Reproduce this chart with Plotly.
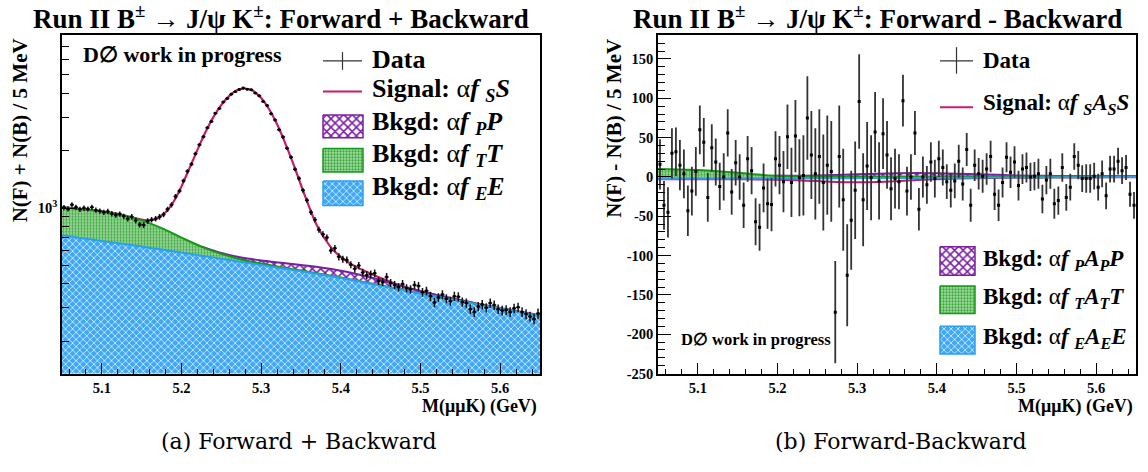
import plotly.graph_objects as go
import numpy as np

W, H = 1148, 472

# ---------------- data ----------------
# bin centres (5 MeV bins from 5.05 to 5.65 GeV)
bin_centers = [round(5.0525 + 0.005 * i, 4) for i in range(120)]

# Forward + Backward counts per bin
counts_sum = [1005, 990, 1040, 1010, 985, 1000, 990, 1010, 975, 965,
              950, 960, 935, 920, 930, 905, 880, 900, 860, 820,
              815, 855, 870, 880, 900, 925, 985, 1040, 1150, 1230,
              1390, 1560, 1700, 1930, 2150, 2370, 2640, 2850, 3140, 3330,
              3600, 3760, 3960, 4080, 4190, 4260, 4200, 4180, 4020, 3880,
              3620, 3450, 3130, 2900, 2580, 2360, 2060, 1850, 1600, 1430,
              1240, 1100, 950, 870, 770, 730, 700, 600, 615, 555,
              540, 535, 505, 480, 500, 460, 445, 450, 455, 415,
              410, 435, 405, 395, 385, 400, 380, 375, 395, 390,
              362, 368, 345, 320, 340, 352, 335, 325, 345, 343,
              322, 318, 295, 285, 305, 312, 300, 318, 310, 295,
              290, 292, 285, 298, 302, 285, 278, 270, 262, 280]

# statistical errors per bin
errors = [32, 31, 32, 32, 31, 32, 31, 32, 31, 31,
          31, 31, 31, 30, 30, 30, 30, 30, 29, 29,
          29, 29, 29, 30, 30, 30, 31, 32, 34, 35,
          37, 39, 41, 44, 46, 49, 51, 53, 56, 58,
          60, 61, 63, 64, 65, 65, 65, 65, 63, 62,
          60, 59, 56, 54, 51, 49, 45, 43, 40, 38,
          35, 33, 31, 29, 28, 27, 26, 24, 25, 24,
          23, 23, 22, 22, 22, 21, 21, 21, 21, 20,
          20, 21, 20, 20, 20, 20, 19, 19, 20, 20,
          19, 19, 19, 18, 18, 19, 18, 18, 19, 19,
          18, 18, 17, 17, 17, 18, 17, 18, 18, 17,
          17, 17, 17, 17, 17, 17, 17, 16, 16, 17]

# Forward - Backward counts per bin
counts_diff = [16, -36, -45, 30, 32, 15, 4, -43, -18, 7,
               60, 44, -26, 37, 19, -12, 0, 56, -19, 18,
               0, -36, 23, 8, -57, -64, -14, -34, -35, 23,
               15, -6, 51, -7, 52, -1, 2, 75, 28, 4,
               26, -7, 15, 7, -172, 26, -29, -125, -55, -17,
               96, -29, 14, -1, 57, -5, 55, 28, -15, -2,
               -6, 97, -18, 0, 56, -41, 0, -10, 19, -2,
               23, 12, -6, -17, -5, 20, -9, 35, -36, 15,
               4, 1, 10, 26, -22, -36, -7, 25, 6, 19,
               -11, 10, 12, 0, 1, 4, -28, -4, 4, -34,
               -30, 12, -26, -13, 26, 15, -2, -2, -2, 1,
               -13, 4, -24, 10, 10, 20, 8, 12, -22, -36]

# fit curves
fit_x = [round(5.05 + 0.01 * i, 3) for i in range(61)]
fit_total = [1012, 1002, 992, 982, 972, 962, 948, 932, 912, 890,
             870, 862, 885, 950, 1080, 1300, 1620, 2020, 2500, 3000,
             3480, 3880, 4160, 4240, 4110, 3780, 3300, 2750, 2200, 1720,
             1320, 1020, 810, 690, 605, 555, 518, 490, 468, 449,
             430, 414, 399, 386, 375, 366, 358, 350, 343, 336,
             329, 323, 316, 310, 304, 299, 294, 289, 284, 279, 274]

comp_x = [round(5.05 + 0.025 * i, 3) for i in range(25)]
bkg_E = [720, 695, 672, 650, 628, 606, 585, 563, 542, 522, 503, 484, 466,
         448, 430, 411, 392, 374, 356, 340, 325, 311, 297, 284, 272]
bkg_T = [290, 293, 288, 270, 234, 179, 115, 65, 33, 16, 9, 6, 4,
         3, 2, 1.5, 1.5, 1, 1, 0.5, 0.5, 0.5, 0, 0, 0]
bkg_P = [0, 0, 0, 0, 0, 0, 0, 2, 6, 12, 19, 27, 33,
         37, 37, 33, 26, 17, 10, 5, 2.5, 1, 0.5, 0, 0]

# asymmetry components (Forward - Backward)
asym_E = [-2.5, -2.4, -2.3, -2.2, -2.1, -2.0, -1.9, -1.8, -1.7, -1.6, -1.5, -1.4, -1.3,
          -1.2, -1.1, -1.0, -0.9, -0.8, -0.7, -0.6, -0.5, -0.4, -0.3, -0.2, -0.1]
asym_T = [12.5, 12, 11, 9.5, 7.5, 5, 3.5, 2.7, 2.3, 2.1, 2.0, 2.0, 1.9,
          1.9, 1.8, 1.8, 1.7, 1.7, 1.6, 1.6, 1.5, 1.5, 1.5, 1.4, 1.4]
asym_P = [0, 0, 0, 0, 0, 0, 0.2, 0.6, 1.2, 2, 2.8, 3.5, 4,
          4.2, 4, 3.4, 2.6, 1.8, 1.1, 0.6, 0.3, 0.1, 0, 0, 0]
asym_S = [-2.8, -2.8, -2.8, -2.9, -3.0, -3.2, -3.6, -4.3, -5.3, -6.3, -6.8, -6.5, -5.4,
          -4.0, -2.8, -2.0, -1.6, -1.3, -1.1, -0.9, -0.8, -0.7, -0.6, -0.5, -0.5]

x_ticks = [5.1, 5.2, 5.3, 5.4, 5.5, 5.6]
diff_ticks = [-250, -200, -150, -100, -50, 0, 50, 100, 150]

# ---------------- styles ----------------
SERIF = "Liberation Serif"
C_BLUE = "#2a9ff2"
C_GREEN = "#129a12"
C_PURPLE = "#7a1fa2"
C_MAG = "#cc1a6e"

PAT_BLUE = dict(shape="x", bgcolor="#3ea8f5", fgcolor="#ffffff", size=5, solidity=0.25, fillmode="replace")
PAT_GREEN = dict(shape=".", bgcolor="#a6dba6", fgcolor="#3aa83a", size=3, solidity=0.45, fillmode="replace")
PAT_PURPLE = dict(shape="x", bgcolor="#ffffff", fgcolor=C_PURPLE, size=6, solidity=0.45, fillmode="replace")

E = np.array(bkg_E, dtype=float)
ET = E + np.array(bkg_T)
ETP = ET + np.array(bkg_P)
aE = np.array(asym_E)
aET = aE + np.array(asym_T)
aETP = aET + np.array(asym_P)
p_mask = np.array(bkg_P) > 0
ap_mask = np.array(asym_P) > 0

fig = go.Figure()

# ---------- left panel ----------
fig.add_trace(go.Scatter(x=comp_x, y=[100] * len(comp_x), mode="lines", line=dict(width=0),
                         xaxis="x", yaxis="y", hoverinfo="skip", showlegend=False))
fig.add_trace(go.Scatter(x=comp_x, y=E, mode="lines", line=dict(width=0, shape="spline"),
                         fill="tonexty", fillpattern=PAT_BLUE, xaxis="x", yaxis="y", showlegend=False))
fig.add_trace(go.Scatter(x=comp_x, y=ET, mode="lines", line=dict(width=0, shape="spline"),
                         fill="tonexty", fillpattern=PAT_GREEN, xaxis="x", yaxis="y", showlegend=False))
fig.add_trace(go.Scatter(x=comp_x, y=ETP, mode="lines", line=dict(width=0, shape="spline"),
                         fill="tonexty", fillpattern=PAT_PURPLE, xaxis="x", yaxis="y", showlegend=False))
fig.add_trace(go.Scatter(x=fit_x, y=fit_total, mode="lines", line=dict(color=C_MAG, width=2.2, shape="spline"),
                         xaxis="x", yaxis="y", showlegend=False))
fig.add_trace(go.Scatter(x=np.array(comp_x)[p_mask], y=ETP[p_mask], mode="lines",
                         line=dict(color=C_PURPLE, width=2, shape="spline"), xaxis="x", yaxis="y", showlegend=False))
fig.add_trace(go.Scatter(x=comp_x, y=ET, mode="lines", line=dict(color=C_GREEN, width=2, shape="spline"),
                         xaxis="x", yaxis="y", showlegend=False))
fig.add_trace(go.Scatter(x=comp_x, y=E, mode="lines", line=dict(color=C_BLUE, width=2, shape="spline"),
                         xaxis="x", yaxis="y", showlegend=False))
fig.add_trace(go.Scatter(x=bin_centers, y=counts_sum, mode="markers",
                         marker=dict(symbol="square", size=2.5, color="black"),
                         error_y=dict(type="data", array=errors, color="#111111", thickness=1.5, width=0),
                         error_x=dict(type="constant", value=0.0025, color="#111111", thickness=1.5, width=0),
                         xaxis="x", yaxis="y", showlegend=False))

# ---------- right panel ----------
fig.add_trace(go.Scatter(x=comp_x, y=aE, mode="lines", line=dict(width=0, shape="spline"),
                         fill="tozeroy", fillpattern=PAT_BLUE, xaxis="x2", yaxis="y2", showlegend=False))
fig.add_trace(go.Scatter(x=comp_x, y=aET, mode="lines", line=dict(width=0, shape="spline"),
                         fill="tonexty", fillpattern=PAT_GREEN, xaxis="x2", yaxis="y2", showlegend=False))
fig.add_trace(go.Scatter(x=comp_x, y=aETP, mode="lines", line=dict(width=0, shape="spline"),
                         fill="tonexty", fillpattern=PAT_PURPLE, xaxis="x2", yaxis="y2", showlegend=False))
fig.add_trace(go.Scatter(x=comp_x, y=asym_S, mode="lines", line=dict(color=C_MAG, width=2, shape="spline"),
                         xaxis="x2", yaxis="y2", showlegend=False))
fig.add_trace(go.Scatter(x=np.array(comp_x)[ap_mask], y=aETP[ap_mask], mode="lines",
                         line=dict(color=C_PURPLE, width=2, shape="spline"), xaxis="x2", yaxis="y2", showlegend=False))
fig.add_trace(go.Scatter(x=comp_x, y=aET, mode="lines", line=dict(color=C_GREEN, width=2, shape="spline"),
                         xaxis="x2", yaxis="y2", showlegend=False))
fig.add_trace(go.Scatter(x=comp_x, y=aE, mode="lines", line=dict(color=C_BLUE, width=2, shape="spline"),
                         xaxis="x2", yaxis="y2", showlegend=False))
fig.add_trace(go.Scatter(x=bin_centers, y=counts_diff, mode="markers",
                         marker=dict(symbol="square", size=3, color="black"),
                         error_y=dict(type="data", array=errors, color="#333333", thickness=1.8, width=0),
                         xaxis="x2", yaxis="y2", showlegend=False))

# ---------- legend swatches (pixel-space overlay axis) ----------
def rect(x0, y0, x1, y1):
    return [x0, x1, x1, x0, x0], [y0, y0, y1, y1, y0]

for (x0, y0, x1, y1, pat, col) in [
        (323, 117, 363, 140, PAT_PURPLE, C_PURPLE),
        (323, 151, 363, 175, PAT_GREEN, C_GREEN),
        (323, 184, 363, 209, PAT_BLUE, C_BLUE),
        (940, 251, 975, 280, PAT_PURPLE, C_PURPLE),
        (940, 291, 975, 319, PAT_GREEN, C_GREEN),
        (940, 332, 975, 360, PAT_BLUE, C_BLUE)]:
    xs, ys = rect(x0, y0, x1, y1)
    fig.add_trace(go.Scatter(x=xs, y=ys, mode="lines", fill="toself", fillpattern=pat,
                             line=dict(color=col, width=1.5), xaxis="x3", yaxis="y3",
                             hoverinfo="skip", showlegend=False))

shapes = []
def pline(x0, y0, x1, y1, color, width):
    shapes.append(dict(type="line", xref="paper", yref="paper",
                       x0=x0 / W, y0=1 - y0 / H, x1=x1 / W, y1=1 - y1 / H,
                       line=dict(color=color, width=width)))

# Data crosses and signal line samples
pline(323, 62, 362, 62, "#333333", 1.2)
pline(342.5, 53, 342.5, 71, "#333333", 1.2)
pline(323, 93, 362, 93, C_MAG, 2)
pline(940, 62, 973, 62, "#333333", 1.2)
pline(956.5, 48, 956.5, 75, "#333333", 1.2)
pline(940, 109, 973, 109, C_MAG, 2)

annotations = []
def txt(x, y, s, size, xanchor="left", yanchor="middle", family=SERIF, angle=0, color="black"):
    annotations.append(dict(x=x / W, y=1 - y / H, xref="paper", yref="paper", text=s, showarrow=False,
                            xanchor=xanchor, yanchor=yanchor, textangle=angle,
                            font=dict(family=family, size=size, color=color)))

# titles
txt(281, 17, "<b>Run II B<sup>±</sup> → J/ψ K<sup>±</sup>: Forward + Backward</b>", 27, xanchor="center")
txt(877, 17, "<b>Run II B<sup>±</sup> → J/ψ K<sup>±</sup>: Forward - Backward</b>", 27, xanchor="center")

# axis titles
txt(20, 37, "<b>N(F) + N(B) / 5 MeV</b>", 21, xanchor="center", yanchor="top", angle=-90)
txt(614, 38, "<b>N(F) - N(B) / 5 MeV</b>", 21, xanchor="center", yanchor="top", angle=-90)
txt(539, 413, "<b>M(μμK) (GeV)</b>", 18, xanchor="right")
txt(1135, 413, "<b>M(μμK) (GeV)</b>", 18, xanchor="right")

# D0 labels
txt(81, 55, "<b>D∅ work in progress</b>", 22)
txt(679, 345, "<b>D∅ work in progress</b>", 16.5)

# legends
LS = 26
txt(370, 61, "<b>Data</b>", LS)
txt(370, 92, "<b>Signal:</b> α<b><i>f</i></b> <sub><b><i>S</i></b></sub><b><i>S</i></b>", LS)
txt(370, 125, "<b>Bkgd:</b> α<b><i>f</i></b> <sub><b><i>P</i></b></sub><b><i>P</i></b>", LS)
txt(370, 158, "<b>Bkgd:</b> α<b><i>f</i></b> <sub><b><i>T</i></b></sub><b><i>T</i></b>", LS)
txt(370, 191, "<b>Bkgd:</b> α<b><i>f</i></b> <sub><b><i>E</i></b></sub><b><i>E</i></b>", LS)

RS = 23
txt(981, 62, "<b>Data</b>", RS)
txt(981, 106, "<b>Signal:</b> α<b><i>f</i></b> <sub><b><i>S</i></b></sub><b><i>A</i></b><sub><b><i>S</i></b></sub><b><i>S</i></b>", RS)
txt(981, 264, "<b>Bkgd:</b> α<b><i>f</i></b> <sub><b><i>P</i></b></sub><b><i>A</i></b><sub><b><i>P</i></b></sub><b><i>P</i></b>", RS)
txt(981, 303, "<b>Bkgd:</b> α<b><i>f</i></b> <sub><b><i>T</i></b></sub><b><i>A</i></b><sub><b><i>T</i></b></sub><b><i>T</i></b>", RS)
txt(981, 344, "<b>Bkgd:</b> α<b><i>f</i></b> <sub><b><i>E</i></b></sub><b><i>A</i></b><sub><b><i>E</i></b></sub><b><i>E</i></b>", RS)

# captions
txt(299, 449, "(a) Forward + Backward", 22, xanchor="center", family="DejaVu Serif")
txt(901, 449, "(b) Forward-Backward", 22, xanchor="center", family="DejaVu Serif")

TICKFONT = dict(family=SERIF, size=14.5, color="black", weight="bold")
X_DOM1 = [62 / W, 540 / W]
X_DOM2 = [658 / W, 1136 / W]
Y_DOM = [1 - 380 / H, 1 - 36 / H]

common_x = dict(range=[5.05, 5.65], showline=True, mirror=True, linecolor="black", linewidth=1.5,
                ticks="inside", ticklen=11, tickwidth=1.2, tickcolor="black",
                tickmode="array", tickvals=x_ticks, ticktext=[str(v) for v in x_ticks],
                tickfont=TICKFONT, showgrid=False, zeroline=False,
                minor=dict(ticks="inside", ticklen=5, tickwidth=1.2, tickcolor="black",
                           tickmode="linear", tick0=5.0, dtick=0.02, showgrid=False))

fig.update_layout(
    width=W, height=H, margin=dict(l=0, r=0, t=0, b=0),
    paper_bgcolor="white", plot_bgcolor="rgba(0,0,0,0)",
    showlegend=False,
    xaxis=dict(domain=X_DOM1, anchor="y", **common_x),
    yaxis=dict(domain=Y_DOM, anchor="x", type="log", range=[2.132, 3.906],
               showline=True, mirror=True, linecolor="black", linewidth=1.5,
               ticks="inside", ticklen=13, tickwidth=1.2, tickcolor="black",
               tickmode="array", tickvals=[1000], ticktext=["10<sup>3</sup>"],
               tickfont=TICKFONT, showgrid=False, zeroline=False,
               minor=dict(ticks="inside", ticklen=7, tickwidth=1.2, tickcolor="black",
                          tickmode="array",
                          tickvals=[200, 300, 400, 500, 600, 700, 800, 900,
                                    2000, 3000, 4000, 5000, 6000, 7000, 8000],
                          showgrid=False)),
    xaxis2=dict(domain=X_DOM2, anchor="y2", **common_x),
    yaxis2=dict(domain=Y_DOM, anchor="x2", range=[-250, 180],
                showline=True, mirror=True, linecolor="black", linewidth=1.5,
                ticks="inside", ticklen=13, tickwidth=1.2, tickcolor="black",
                tickmode="array", tickvals=diff_ticks, ticktext=[str(v) for v in diff_ticks],
                tickfont=TICKFONT, showgrid=False, zeroline=False,
                minor=dict(ticks="inside", ticklen=7, tickwidth=1.2, tickcolor="black",
                           tickmode="linear", tick0=0, dtick=10, showgrid=False)),
    xaxis3=dict(domain=[0, 1], range=[0, W], visible=False, anchor="y3", fixedrange=True),
    yaxis3=dict(domain=[0, 1], range=[H, 0], visible=False, anchor="x3", fixedrange=True),
    shapes=shapes,
    annotations=annotations,
)

fig.write_html("out.html", config={"displayModeBar": False},
               post_script="document.body.style.margin='0px';document.body.style.overflow='hidden';")
